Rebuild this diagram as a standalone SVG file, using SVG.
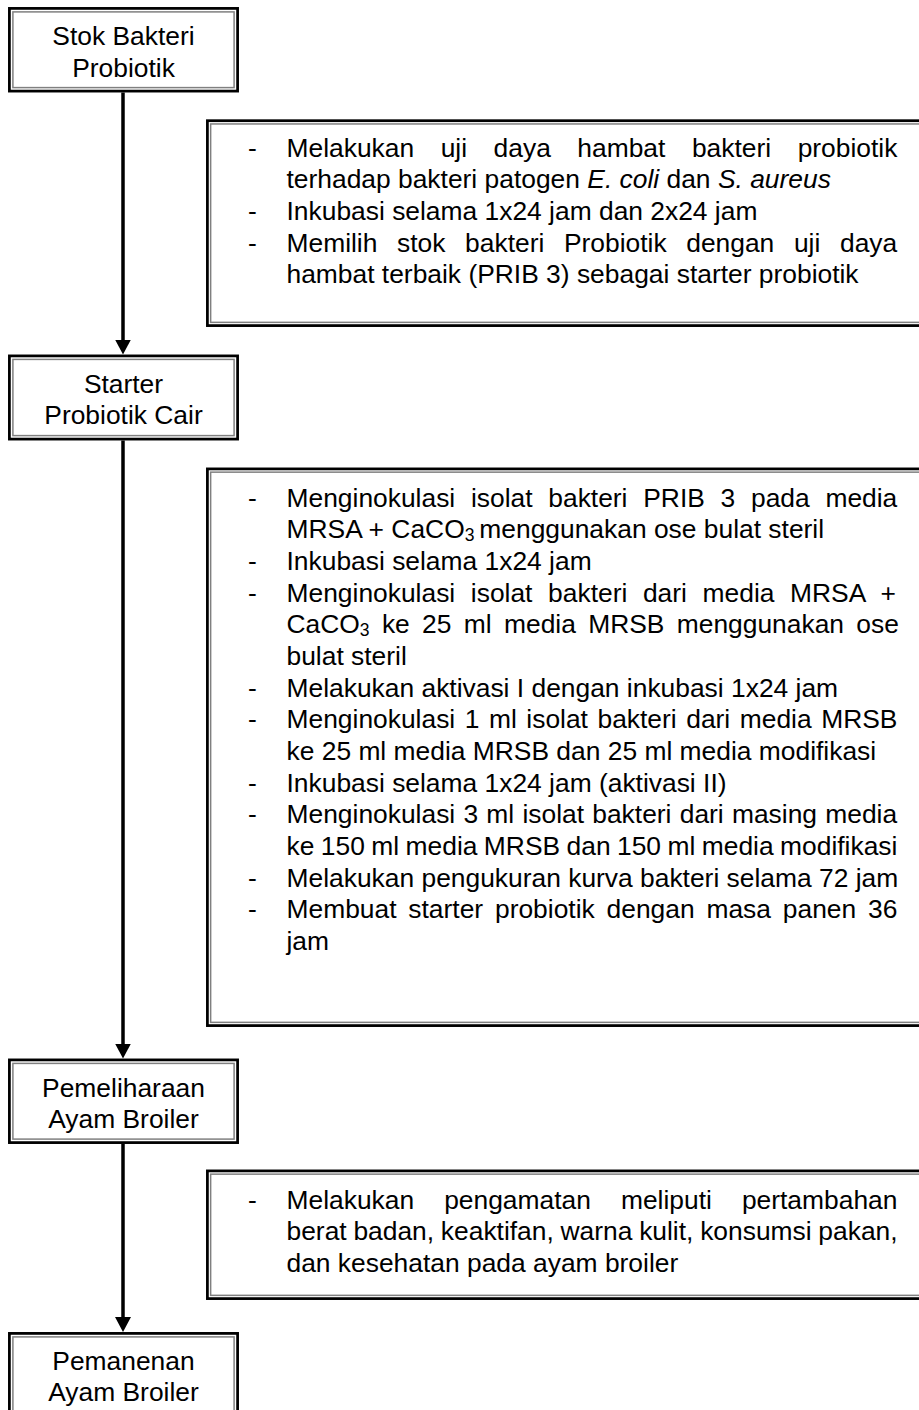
<svg xmlns="http://www.w3.org/2000/svg" width="919" height="1410" viewBox="0 0 919 1410">
<style>
.t{font-family:"Liberation Sans",Arial,sans-serif;font-size:26.4px;fill:#000}
.c{text-anchor:middle}
.ob{fill:#fff;stroke:#000;stroke-width:2.75}
.ib{fill:none;stroke:#808080;stroke-width:1.5}
.conn{stroke:#000;stroke-width:3.5;fill:none}
.sub{font-size:17.5px}
.it{font-style:italic}
</style>
<defs>
<marker id="ah" viewBox="0 0 15 16" refX="6.5" refY="8" markerWidth="15" markerHeight="16" markerUnits="userSpaceOnUse" orient="auto">
<path d="M0,0 L15,8 L0,16 Z" fill="#000"/>
</marker>
</defs>
<rect width="919" height="1410" fill="#fff"/>

<g id="connectors">
<line class="conn" x1="123" y1="92.5" x2="123" y2="346" marker-end="url(#ah)"/>
<line class="conn" x1="123" y1="440.5" x2="123" y2="1050" marker-end="url(#ah)"/>
<line class="conn" x1="123" y1="1144" x2="123" y2="1323.5" marker-end="url(#ah)"/>
</g>

<g id="stok">
<rect class="ob" x="9.4" y="8.4" width="228.2" height="82.7"/>
<rect class="ib" x="12.9" y="11.9" width="221.2" height="75.7"/>
<text class="t c" x="123.5" y="45">Stok Bakteri</text>
<text class="t c" x="123.5" y="76.7">Probiotik</text>
</g>

<g id="note1">
<rect class="ob" x="207.4" y="120.7" width="732.6" height="204.9"/>
<rect class="ib" x="210.65" y="123.95" width="726" height="198.4"/>
<text class="t" x="248" y="156.7">-</text>
<text class="t" x="286.5" y="156.7" word-spacing="19.2">Melakukan uji daya hambat bakteri probiotik</text>
<text class="t" x="286.5" y="188.3">terhadap bakteri patogen <tspan class="it">E. coli</tspan> dan <tspan class="it">S. aureus</tspan></text>
<text class="t" x="248" y="220">-</text>
<text class="t" x="286.5" y="220">Inkubasi selama 1x24 jam dan 2x24 jam</text>
<text class="t" x="248" y="251.7">-</text>
<text class="t" x="286.5" y="251.7" word-spacing="12.3">Memilih stok bakteri Probiotik dengan uji daya</text>
<text class="t" x="286.5" y="283.3">hambat terbaik (PRIB 3) sebagai starter probiotik</text>
</g>

<g id="starter">
<rect class="ob" x="9.4" y="355.9" width="228.2" height="83.2"/>
<rect class="ib" x="12.9" y="359.4" width="221.2" height="76.2"/>
<text class="t c" x="123.5" y="392.8">Starter</text>
<text class="t c" x="123.5" y="423.8">Probiotik Cair</text>
</g>

<g id="note2">
<rect class="ob" x="207.4" y="468.9" width="732.6" height="556.7"/>
<rect class="ib" x="210.65" y="472.15" width="726" height="550.2"/>
<text class="t" x="248" y="506.7">-</text>
<text class="t" x="286.5" y="506.7" word-spacing="8.4">Menginokulasi isolat bakteri PRIB 3 pada media</text>
<text class="t" x="286.5" y="538.4">MRSA + CaCO<tspan class="sub" dy="3">3 </tspan><tspan dy="-3">menggunakan ose bulat steril</tspan></text>
<text class="t" x="248" y="570">-</text>
<text class="t" x="286.5" y="570">Inkubasi selama 1x24 jam</text>
<text class="t" x="248" y="601.7">-</text>
<text class="t" x="286.5" y="601.7" word-spacing="8.3">Menginokulasi isolat bakteri dari media MRSA +</text>
<text class="t" x="286.5" y="633.4" word-spacing="5">CaCO<tspan class="sub" dy="3">3</tspan><tspan dy="-3"> ke 25 ml media MRSB menggunakan ose</tspan></text>
<text class="t" x="286.5" y="665">bulat steril</text>
<text class="t" x="248" y="696.7">-</text>
<text class="t" x="286.5" y="696.7">Melakukan aktivasi I dengan inkubasi 1x24 jam</text>
<text class="t" x="248" y="728.4">-</text>
<text class="t" x="286.5" y="728.4" word-spacing="2.2">Menginokulasi 1 ml isolat bakteri dari media MRSB</text>
<text class="t" x="286.5" y="760">ke 25 ml media MRSB dan 25 ml media modifikasi</text>
<text class="t" x="248" y="791.7">-</text>
<text class="t" x="286.5" y="791.7">Inkubasi selama 1x24 jam (aktivasi II)</text>
<text class="t" x="248" y="823.4">-</text>
<text class="t" x="286.5" y="823.4" word-spacing="0.9">Menginokulasi 3 ml isolat bakteri dari masing media</text>
<text class="t" x="286.5" y="855" word-spacing="-0.9">ke 150 ml media MRSB dan 150 ml media modifikasi</text>
<text class="t" x="248" y="886.7">-</text>
<text class="t" x="286.5" y="886.7">Melakukan pengukuran kurva bakteri selama 72 jam</text>
<text class="t" x="248" y="918.4">-</text>
<text class="t" x="286.5" y="918.4" word-spacing="4.5">Membuat starter probiotik dengan masa panen 36</text>
<text class="t" x="286.5" y="950">jam</text>
</g>

<g id="pemeliharaan">
<rect class="ob" x="9.4" y="1059.9" width="228.2" height="82.7"/>
<rect class="ib" x="12.9" y="1063.4" width="221.2" height="75.7"/>
<text class="t c" x="123.5" y="1096.7">Pemeliharaan</text>
<text class="t c" x="123.5" y="1127.7">Ayam Broiler</text>
</g>

<g id="note3">
<rect class="ob" x="207.4" y="1170.9" width="732.6" height="127.7"/>
<rect class="ib" x="210.65" y="1174.15" width="726" height="121.2"/>
<text class="t" x="248" y="1208.5">-</text>
<text class="t" x="286.5" y="1208.5" word-spacing="22.7">Melakukan pengamatan meliputi pertambahan</text>
<text class="t" x="286.5" y="1240.2" word-spacing="-0.6">berat badan, keaktifan, warna kulit, konsumsi pakan,</text>
<text class="t" x="286.5" y="1271.8">dan kesehatan pada ayam broiler</text>
</g>

<g id="pemanenan">
<rect class="ob" x="9.4" y="1333.4" width="228.2" height="100"/>
<rect class="ib" x="12.9" y="1336.9" width="221.2" height="93"/>
<text class="t c" x="123.5" y="1370">Pemanenan</text>
<text class="t c" x="123.5" y="1400.5">Ayam Broiler</text>
</g>
</svg>
